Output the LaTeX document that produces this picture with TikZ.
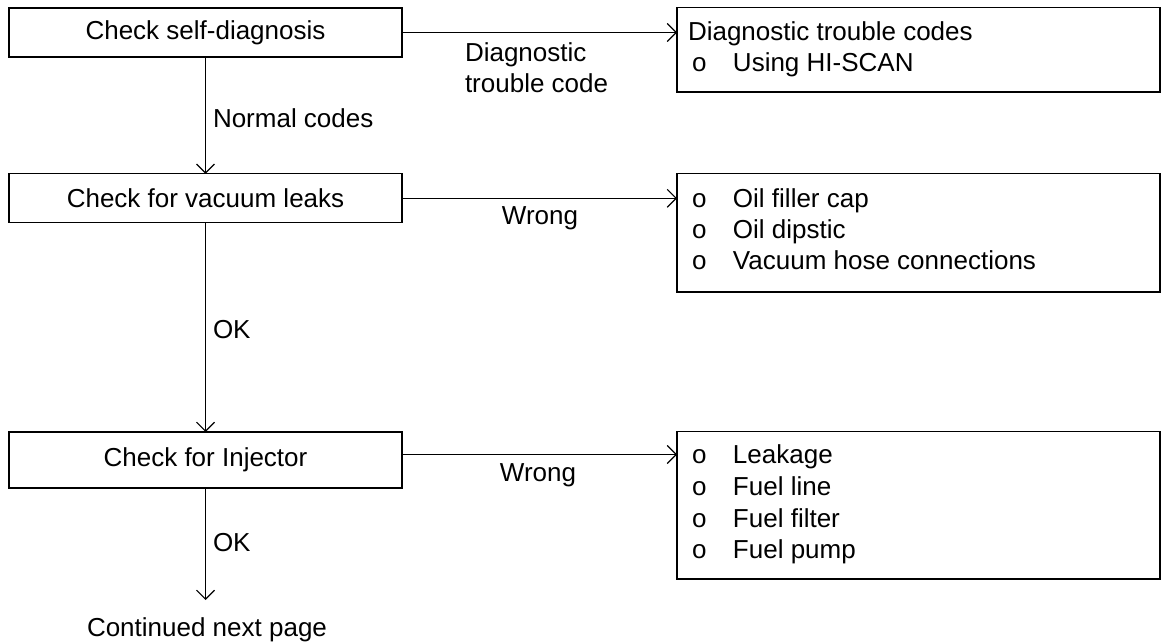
\documentclass[tikz,border=0pt]{standalone}
\usepackage{fontspec}
\setmainfont{Liberation Sans}
\usetikzlibrary{arrows.meta}
\begin{document}
\begin{tikzpicture}[x=1pt,y=-1pt,
  every node/.style={font=\fontsize{26}{31}\selectfont, inner sep=0pt, outer sep=0pt},
  stepbox/.style={draw, line width=1.2pt, minimum width=393pt, inner sep=0pt},
  listbox/.style={draw, line width=1.2pt, anchor=north west, minimum width=483pt, inner sep=0pt},
  item/.style={anchor=base west},
  flow/.style={line width=1.2pt, -{Straight Barb[length=9pt,width=18pt,line width=1.1pt]}},
  lbl/.style={anchor=west}
]
\useasboundingbox (0,0) rectangle (1163,644);

% steps on the left
\node[stepbox, minimum height=49pt] (b1) at (205.5,32.5) {Check self-diagnosis};
\node[stepbox, minimum height=49pt] (b2) at (205.5,198.3) {Check for vacuum leaks};
\node[stepbox, minimum height=56pt] (b3) at (205.5,460) {Check for Injector};

% result boxes on the right
\node[listbox, minimum height=84.5pt] (r1) at (677,7.5) {};
\node[listbox, minimum height=118.5pt] (r2) at (677,173.5) {};
\node[listbox, minimum height=147.5pt] (r3) at (677,431.5) {};

% contents of the result boxes
\node[item] (r1a) at (688,41) {Diagnostic trouble codes};
\node[item] (r1b) at (692,72) {\makebox[41pt][l]{o}Using HI-SCAN};

\node[item] (r2a) at (692,208) {\makebox[41pt][l]{o}Oil filler cap};
\node[item] (r2b) at (692,239) {\makebox[41pt][l]{o}Oil dipstic};
\node[item] (r2c) at (692,270) {\makebox[41pt][l]{o}Vacuum hose connections};

\node[item] (r3a) at (692,464) {\makebox[41pt][l]{o}Leakage};
\node[item] (r3b) at (692,495.5) {\makebox[41pt][l]{o}Fuel line};
\node[item] (r3c) at (692,527) {\makebox[41pt][l]{o}Fuel filter};
\node[item] (r3d) at (692,558.5) {\makebox[41pt][l]{o}Fuel pump};

% connector labels
\node[lbl, align=left] (l1) at (465,68) {Diagnostic\\trouble code};
\node[lbl] (l2) at (213,118) {Normal codes};
\node (l3) at (540,218) {Wrong};
\node[lbl] (l4) at (213,330) {OK};
\node (l5) at (538,475) {Wrong};
\node[lbl] (l6) at (213,543) {OK};
\node (cont) at (207,630) {Continued next page};
\coordinate (end) at (205.5,600);

% connectors
\draw[flow] (b1.east) -- (b1.east -| r1.west);
\draw[flow] (b2.east) -- (b2.east -| r2.west);
\draw[flow] (b3.east |- 0,454.5) -- (r3.west |- 0,454.5);
\draw[flow] (b1.south) -- (b2.north);
\draw[flow] (b2.south) -- (b3.north);
\draw[flow] (b3.south) -- (end);
\end{tikzpicture}
\end{document}
